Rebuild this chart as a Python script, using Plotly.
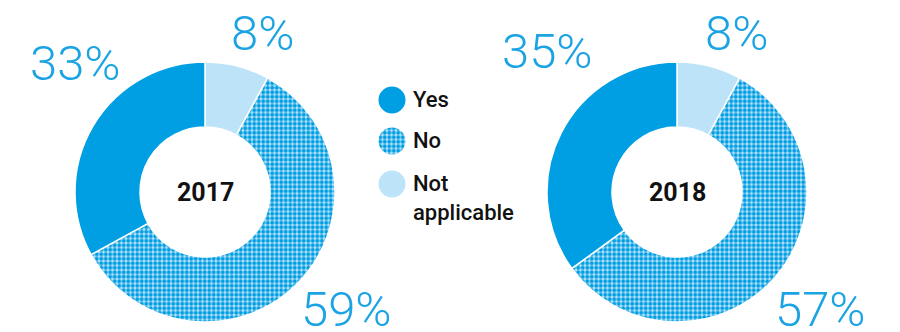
import plotly.graph_objects as go

# Survey answers per year
categories = ["Yes", "No", "Not applicable"]
years = ["2017", "2018"]
values_2017 = [33, 59, 8]
values_2018 = [35, 57, 8]
legend_labels = ["Yes", "No", "Not<br>applicable"]

W, H = 900, 332
DARK = "#009FE3"
LIGHT = "#BDE3F8"
TEXT_BLUE = "#1BA3E4"

PATTERN_SIZE = 4.5
PATTERN_SOLIDITY = 0.6

base_color = {"Yes": DARK, "No": LIGHT, "Not applicable": LIGHT}
dotted = {"Yes": "", "No": ".", "Not applicable": ""}


def px_dom(x0, x1, y0, y1):
    return dict(x=[x0 / W, x1 / W], y=[1 - y1 / H, 1 - y0 / H])


def slice_marker(cats, line_width):
    return dict(
        colors=[base_color[c] for c in cats],
        pattern=dict(
            shape=[dotted[c] for c in cats],
            fgcolor=[DARK] * len(cats),
            bgcolor=[LIGHT] * len(cats),
            size=PATTERN_SIZE,
            solidity=PATTERN_SOLIDITY,
            fillmode="replace",
        ),
        line=dict(color="white", width=line_width),
    )


fig = go.Figure()

# Slices drawn clockwise from 12 o'clock: Not applicable, No, Yes
draw_order = ["Not applicable", "No", "Yes"]
donuts = [
    (years[0], values_2017, (75, 335, 62, 322)),
    (years[1], values_2018, (547, 807, 62, 322)),
]
for year, vals, box in donuts:
    lookup = dict(zip(categories, vals))
    fig.add_trace(go.Pie(
        labels=draw_order,
        values=[lookup[c] for c in draw_order],
        sort=False,
        direction="clockwise",
        rotation=0,
        hole=0.5,
        textinfo="none",
        hoverinfo="label+percent",
        marker=slice_marker(draw_order, 1.5),
        domain=px_dom(*box),
        showlegend=False,
    ))

# Legend swatches as small single-slice pies
legend_y = [100, 141, 184]
for cat, cy in zip(categories, legend_y):
    r = 13.5
    fig.add_trace(go.Pie(
        labels=[cat], values=[1], sort=False, textinfo="none", hoverinfo="label",
        marker=slice_marker([cat], 0),
        domain=px_dom(392 - r, 392 + r, cy - r, cy + r),
        showlegend=False,
    ))

ann = []
# Percent labels around each donut
label_pos = {
    "2017": {"Yes": (75, 64), "Not applicable": (262, 33), "No": (346, 309)},
    "2018": {"Yes": (547, 51), "Not applicable": (736, 33), "No": (820, 309)},
}
for year, vals, _ in donuts:
    for cat, v in zip(categories, vals):
        x, y = label_pos[year][cat]
        ann.append(dict(x=x / W, y=1 - y / H, xref="paper", yref="paper",
                        text=f"{v}%", showarrow=False, xanchor="center", yanchor="middle",
                        font=dict(family="Roboto", size=49, color=TEXT_BLUE, weight=300)))
    cx = 205 if year == years[0] else 677
    ann.append(dict(x=cx / W, y=1 - 192 / H, xref="paper", yref="paper", text=f"<b>{year}</b>",
                    showarrow=False, xanchor="center", yanchor="middle",
                    font=dict(family="Roboto", size=25, color="#111111")))

# Legend text
for lab, cy in zip(legend_labels, legend_y):
    two_line = "<br>" in lab
    ann.append(dict(x=411 / W, y=1 - cy / H, xref="paper", yref="paper", text=lab,
                    showarrow=False, xanchor="left",
                    yanchor="top" if two_line else "middle",
                    yshift=15 if two_line else 0,
                    align="left",
                    font=dict(family="Roboto", size=22, color="#111111", weight=500)))

fig.update_layout(
    width=W, height=H,
    margin=dict(l=0, r=0, t=0, b=0),
    paper_bgcolor="white", plot_bgcolor="white",
    annotations=ann,
    showlegend=False,
)

fig.write_html("out.html")
